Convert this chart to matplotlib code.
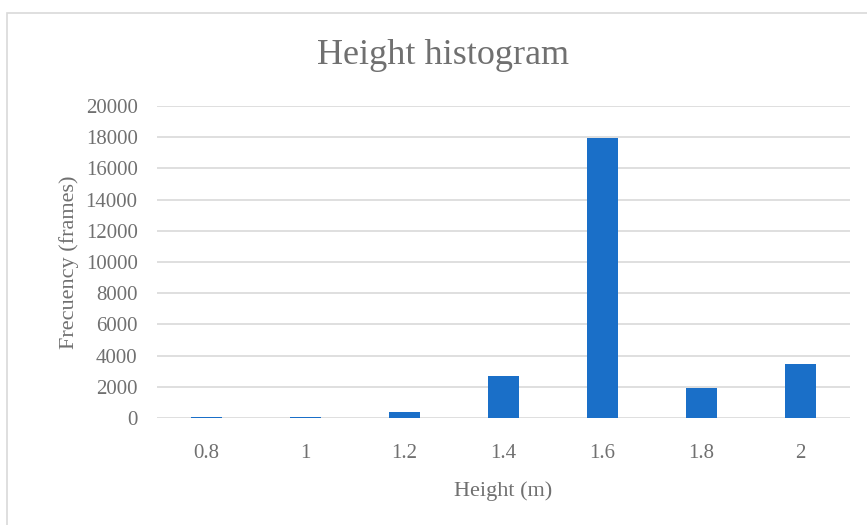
import matplotlib
matplotlib.use("Agg")
import matplotlib.pyplot as plt
from matplotlib.patches import Rectangle

heights = ["0.8", "1", "1.2", "1.4", "1.6", "1.8", "2"]
frames = [40, 90, 380, 2700, 17950, 1950, 3450]
yticks = list(range(0, 20001, 2000))

grey = "#707070"
plt.rcParams["font.family"] = ["Liberation Serif", "DejaVu Serif"]

fig = plt.figure(figsize=(8.67, 5.25), dpi=100)
ax = fig.add_axes([157 / 867, 1 - 418 / 525, 693 / 867, 312 / 525])

# chart border
fig.patches.append(Rectangle((7 / 867, -0.01), 1.0, 1 - 13 / 525 + 0.01,
                             transform=fig.transFigure, fill=False,
                             edgecolor="#d9d9d9", linewidth=1.2))

x = range(len(heights))
ax.bar(x, frames, width=0.31, color="#1a6fc8", zorder=3)

ax.set_xlim(-0.5, len(heights) - 0.5)
ax.set_ylim(0, 20000)
ax.set_yticks(yticks)
ax.set_xticks(list(x))
ax.set_xticklabels(heights)
ax.grid(axis="y", color="#d9d9d9", linewidth=1.2, zorder=0)
for s in ax.spines.values():
    s.set_visible(False)
ax.tick_params(length=0, colors=grey, labelsize=15)
ax.tick_params(axis="x", pad=19)
ax.tick_params(axis="y", pad=14)

ax.set_xlabel("Height (m)", color=grey, fontsize=16, labelpad=13)
ax.set_ylabel("Frecuency (frames)", color=grey, fontsize=16, labelpad=5)
fig.text(443 / 867, 1 - 56 / 525, "Height histogram", color=grey,
         fontsize=26, ha="center", va="center")

fig.savefig("out.png", dpi=100)
